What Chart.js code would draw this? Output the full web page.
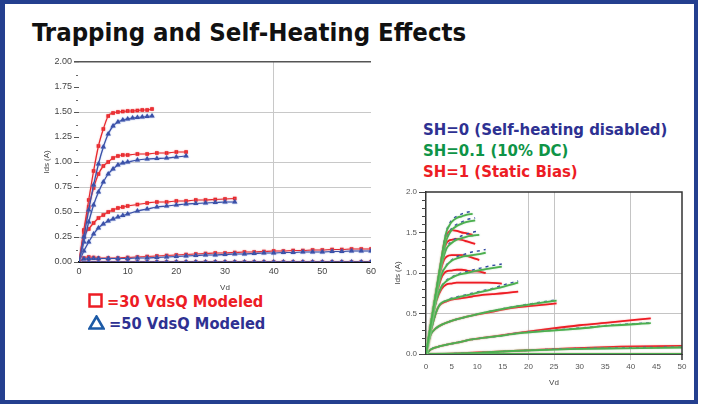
<!DOCTYPE html>
<html><head><meta charset="utf-8">
<script src="https://cdn.jsdelivr.net/npm/chart.js@4.4.1/dist/chart.umd.min.js"></script>
<style>
html,body{margin:0;padding:0;background:#fff;}
body{width:701px;height:408px;position:relative;overflow:hidden;font-family:"DejaVu Sans Condensed","DejaVu Sans",sans-serif;}
#frame{position:absolute;left:0;top:0;width:698px;height:404px;box-sizing:border-box;border:4px solid #243f8f;border-left-width:5px;}
#title{position:absolute;left:32px;top:17px;font-weight:bold;font-size:25.5px;color:#111;white-space:nowrap;}
.lg{position:absolute;font-weight:bold;white-space:nowrap;}
.lg svg{vertical-align:-1px;margin-right:4px;}
canvas{position:absolute;}
</style></head>
<body>
<div id="frame"></div>
<div id="title">Trapping and Self-Heating Effects</div>
<div class="lg" style="left:88px;top:292px;font-size:16.3px;color:#ed1c24;"><svg width="15" height="15"><rect x="1.5" y="1.5" width="12" height="12" fill="none" stroke="#ed1c24" stroke-width="2.5"/></svg>=30 VdsQ Modeled</div>
<div class="lg" style="left:88px;top:314px;font-size:16.3px;color:#2e3192;"><svg width="17" height="15"><polygon points="8.5,1.5 15.5,13.5 1.5,13.5" fill="none" stroke="#1c5aa6" stroke-width="2.5"/></svg>=50 VdsQ Modeled</div>
<div class="lg" style="left:423px;top:120px;font-size:16.6px;color:#2e3192;">SH=0 (Self-heating disabled)</div>
<div class="lg" style="left:423px;top:141px;font-size:16.6px;color:#0e9447;">SH=0.1 (10% DC)</div>
<div class="lg" style="left:423px;top:162px;font-size:16.6px;color:#ed1c24;">SH=1 (Static Bias)</div>
<canvas id="c1" width="345" height="245" style="left:35px;top:52px;"></canvas>
<canvas id="c2" width="310" height="210" style="left:385px;top:182px;"></canvas>
<script>
// ---------- Left chart: VdsQ = 30 (red squares) vs 50 (blue triangles) ----------
const L_VD_1 = [0,1,2,3,4,5,6,7,8,9,10,11,12,13,14,15];
const L_Q30_1 = [0,0.32,0.62,0.91,1.16,1.33,1.46,1.49,1.50,1.505,1.51,1.51,1.515,1.52,1.52,1.53];
const L_Q50_1 = [0,0.25,0.52,0.77,0.98,1.15,1.28,1.36,1.40,1.42,1.43,1.44,1.445,1.45,1.455,1.46];
const L_VD_2 = [0,1,2,3,4,5,6,7,8,9,10,12,14,16,18,20,22];
const L_Q30_2 = [0,0.30,0.55,0.74,0.88,0.96,1.00,1.04,1.06,1.07,1.07,1.08,1.08,1.09,1.09,1.10,1.10];
const L_Q50_2 = [0,0.20,0.40,0.57,0.70,0.80,0.88,0.93,0.97,0.99,1.00,1.02,1.03,1.035,1.04,1.05,1.06];
const L_VD_3 = [0,1,2,3,4,5,6,7,8,9,10,12,14,16,18,20,22,24,26,28,30,32];
const L_Q30_3 = [0,0.25,0.33,0.39,0.44,0.47,0.50,0.52,0.54,0.55,0.56,0.575,0.59,0.60,0.60,0.61,0.61,0.62,0.62,0.625,0.63,0.635];
const L_Q50_3 = [0,0.11,0.20,0.28,0.34,0.38,0.41,0.43,0.45,0.465,0.48,0.51,0.53,0.55,0.56,0.57,0.58,0.585,0.59,0.595,0.60,0.60];
const L_VD_4 = [0,1,2,3,4,6,8,10,12,14,16,18,20,22,24,26,28,30,32,34,36,38,40,42,44,46,48,50,52,54,56,58,60];
const L_Q30_4 = [0,0.04,0.05,0.045,0.04,0.04,0.04,0.045,0.05,0.055,0.06,0.065,0.07,0.075,0.08,0.085,0.09,0.09,0.095,0.10,0.10,0.105,0.11,0.11,0.115,0.115,0.12,0.12,0.125,0.125,0.13,0.13,0.13];
const L_Q50_4 = [0,0.03,0.035,0.035,0.035,0.035,0.035,0.035,0.04,0.04,0.045,0.05,0.055,0.06,0.065,0.07,0.07,0.075,0.08,0.08,0.085,0.09,0.09,0.095,0.095,0.10,0.10,0.10,0.105,0.105,0.11,0.11,0.11];
const L_VD_5 = [0,2,4,6,8,10,12,14,16,18,20,22,24,26,28,30,32,34,36,38,40,42,44,46,48,50,52,54,56,58,60];
const L_Q30_5 = [0,0,0,0,0,0,0,0,0,0,0,0,0,0,0,0,0,0,0,0,0,0,0,0,0,0,0,0,0,0,0];
const L_Q50_5 = [0,0,0,0,0,0,0,0,0,0,0,0,0,0,0,0,0,0,0,0,0,0,0,0,0,0,0,0,0,0,0];
const L_Y_TICKS = [0,0.25,0.5,0.75,1,1.25,1.5,1.75,2];
const L_X_TICKS = [0,10,20,30,40,50,60];

// ---------- Right chart: SH = 0 (blue), 0.1 (green), 1 (red) ----------
const R_VD_1 = [0,1,2,3,3.5,4,4.5,5,6,7,8,9.1];
const SH0_1  = [0,0.39,0.78,1.17,1.37,1.52,1.60,1.65,1.70,1.73,1.75,1.76];
const SH01_1 = [0,0.39,0.78,1.17,1.36,1.51,1.58,1.63,1.68,1.70,1.72,1.73];
const SH1_1  = [0,0.39,0.78,1.17,1.36,1.47,1.51,1.53,1.52,1.50,1.49,1.47];
const R_VD_2 = [0,1,2,3,3.5,4,4.5,5,6,7,8,9.6];
const SH0_2  = [0,0.39,0.77,1.14,1.30,1.42,1.50,1.55,1.60,1.63,1.66,1.68];
const SH01_2 = [0,0.39,0.77,1.14,1.29,1.41,1.48,1.53,1.58,1.61,1.63,1.65];
const SH1_2  = [0,0.39,0.77,1.12,1.28,1.37,1.40,1.41,1.42,1.41,1.39,1.36];
const R_VD_3 = [0,1,2,3,3.5,4,5,6,7,8,9,10.4];
const SH0_3  = [0,0.39,0.77,1.10,1.22,1.31,1.39,1.43,1.46,1.48,1.50,1.52];
const SH01_3 = [0,0.39,0.77,1.10,1.21,1.30,1.37,1.41,1.43,1.45,1.46,1.47];
const SH1_3  = [0,0.39,0.76,1.06,1.16,1.20,1.22,1.22,1.22,1.21,1.19,1.16];
const R_VD_4 = [0,1,2,3,4,5,6,7,8,9,10,11.65];
const SH0_4  = [0,0.38,0.73,0.98,1.10,1.16,1.20,1.22,1.24,1.26,1.27,1.29];
const SH01_4 = [0,0.38,0.73,0.98,1.09,1.15,1.18,1.20,1.21,1.22,1.23,1.25];
const SH1_4  = [0,0.38,0.71,0.94,1.02,1.03,1.04,1.04,1.03,1.02,1.02,1.00];
const R_VD_5 = [0,1,2,3,4,5,6,8,10,12,14.8];
const SH0_5  = [0,0.35,0.66,0.83,0.91,0.95,0.98,1.02,1.05,1.08,1.11];
const SH01_5 = [0,0.35,0.66,0.83,0.90,0.94,0.97,1.00,1.03,1.05,1.08];
const SH1_5  = [0,0.35,0.65,0.80,0.86,0.87,0.88,0.88,0.88,0.88,0.87];
const R_VD_6 = [0,1,2,2.5,3,4,5,7,9,11,13,15,18];
const SH0_6  = [0,0.30,0.52,0.59,0.63,0.66,0.69,0.72,0.75,0.78,0.81,0.85,0.90];
const SH01_6 = [0,0.30,0.52,0.59,0.63,0.66,0.68,0.71,0.74,0.77,0.80,0.83,0.88];
const SH1_6  = [0,0.30,0.52,0.59,0.62,0.65,0.67,0.69,0.71,0.73,0.74,0.75,0.77];
const R_VD_7 = [0,0.5,1,1.5,2,3,5,8,12,16,20,25.5];
const SH0_7  = [0,0.15,0.25,0.29,0.32,0.36,0.41,0.46,0.52,0.57,0.615,0.67];
const SH01_7 = [0,0.15,0.25,0.29,0.32,0.36,0.41,0.46,0.52,0.57,0.61,0.66];
const SH1_7  = [0,0.15,0.25,0.29,0.32,0.36,0.41,0.46,0.51,0.56,0.59,0.625];
const R_VD_8 = [0,1,3,6,9,14,18,24,30,36,43.9];
const SH0_8  = [0,0.06,0.10,0.14,0.18,0.22,0.26,0.29,0.32,0.355,0.385];
const SH01_8 = [0,0.06,0.10,0.14,0.18,0.22,0.255,0.285,0.315,0.35,0.38];
const SH1_8  = [0,0.06,0.10,0.14,0.18,0.225,0.26,0.31,0.355,0.39,0.44];
const R_VD_9 = [0,5,10,18,28,38,50];
const SH0_9  = [0,0.005,0.015,0.04,0.065,0.075,0.085];
const SH01_9 = [0,0.005,0.015,0.04,0.06,0.07,0.08];
const SH1_9  = [0,0.005,0.02,0.04,0.07,0.09,0.10];
const R_VD_10 = [0,50];
const SH0_10  = [0,0];
const SH01_10 = [0,0];
const SH1_10  = [0,0];

function pts(xs, ys){ return xs.map((x,i)=>({x:x, y:ys[i]})); }

const halo = {
  id:'halo',
  beforeDatasetDraw(chart, args){
    const ds = chart.data.datasets[args.index];
    chart.ctx.save();
    if (ds.halo){ chart.ctx.shadowColor = ds.halo; chart.ctx.shadowBlur = 1.5; }
  },
  afterDatasetDraw(chart){ chart.ctx.restore(); }
};

Chart.defaults.font.family = '"Liberation Sans", Arial, sans-serif';
Chart.defaults.animation = false;

// ---- left chart ----
const RED = '#e8262b', BLUE = '#3a4fa6';
const leftSets = [];
[[L_VD_1,L_Q30_1,L_Q50_1],[L_VD_2,L_Q30_2,L_Q50_2],[L_VD_3,L_Q30_3,L_Q50_3],[L_VD_4,L_Q30_4,L_Q50_4],[L_VD_5,L_Q30_5,L_Q50_5]].forEach(c=>{
  leftSets.push({data:pts(c[0],c[2]), borderColor:BLUE, backgroundColor:BLUE, borderWidth:1.2, pointStyle:'triangle', pointRadius:1.9, halo:'rgba(110,140,215,0.7)'});
  leftSets.push({data:pts(c[0],c[1]), borderColor:RED, backgroundColor:RED, borderWidth:1.2, pointStyle:'rect', pointRadius:1.7, halo:'rgba(245,130,130,0.7)'});
});

const leftMinor = {
  id:'leftMinor',
  afterDraw(chart){
    const y = chart.scales.y, ctx = chart.ctx, a = chart.chartArea;
    ctx.save(); ctx.strokeStyle = '#666'; ctx.lineWidth = 1;
    for (let i=0;i<L_Y_TICKS.length-1;i++){
      const v = (L_Y_TICKS[i]+L_Y_TICKS[i+1])/2;
      const p = Math.round(y.getPixelForValue(v))+0.5;
      ctx.beginPath(); ctx.moveTo(a.left-3,p); ctx.lineTo(a.left-1,p); ctx.stroke();
    }
    ctx.restore();
  }
};

new Chart(document.getElementById('c1'), {
  type:'line',
  data:{datasets:leftSets},
  plugins:[halo,leftMinor],
  options:{
    responsive:false,
    layout:{padding:{left:0,right:7,top:10,bottom:0}},
    plugins:{legend:{display:false},tooltip:{enabled:false}},
    elements:{line:{cubicInterpolationMode:'monotone'}},
    scales:{
      x:{type:'linear',min:0,max:60,
         afterBuildTicks(s){ s.ticks = L_X_TICKS.map(v=>({value:v})); },
         afterFit(s){ s.height = 35; },
         ticks:{color:'#444',font:{size:9},padding:4,maxRotation:0},
         grid:{drawTicks:false,color:c=>c.tick && c.tick.value===40 ? '#c8c8c8' : 'rgba(0,0,0,0)',lineWidth:1},
         border:{display:true,color:'#111',width:1.5},
         title:{display:true,text:'Vd',color:'#444',font:{size:8},padding:{top:2,bottom:4}}},
      y:{type:'linear',min:0,max:2,
         afterBuildTicks(s){ s.ticks = L_Y_TICKS.map(v=>({value:v})); },
         afterFit(s){ s.width = 44; },
         ticks:{color:'#444',font:{size:9},padding:2,callback:v=>v.toFixed(2)},
         grid:{drawTicks:true,tickLength:5,
               color:c=>{const v=c.tick?c.tick.value:null; if(v===2) return '#555'; if(v===0) return '#111'; if(v===1.25||v===1.75) return 'rgba(0,0,0,0)'; return '#c8c8c8';},
               tickColor:'#555',
               lineWidth:c=>(c.tick&&c.tick.value===2)?1.6:1},
         border:{display:false},
         title:{display:true,text:'Ids (A)',color:'#444',font:{size:8},padding:{top:7,bottom:0}}}
    }
  }
});

// ---- right chart ----
const R_BLUE = '#2f46a0', R_GREEN = '#4caf4f', R_RED = '#ee1c24';
const rightCurves = [
  [R_VD_1,SH0_1,SH01_1,SH1_1],[R_VD_2,SH0_2,SH01_2,SH1_2],[R_VD_3,SH0_3,SH01_3,SH1_3],
  [R_VD_4,SH0_4,SH01_4,SH1_4],[R_VD_5,SH0_5,SH01_5,SH1_5],[R_VD_6,SH0_6,SH01_6,SH1_6],
  [R_VD_7,SH0_7,SH01_7,SH1_7],[R_VD_8,SH0_8,SH01_8,SH1_8],[R_VD_9,SH0_9,SH01_9,SH1_9],
  [R_VD_10,SH0_10,SH01_10,SH1_10]];
const rightSets = [];
rightCurves.forEach(c=>{ rightSets.push({data:pts(c[0],c[2]),borderColor:R_GREEN,borderWidth:1.8,pointRadius:0,halo:'rgba(150,210,150,0.8)'}); });
rightCurves.forEach(c=>{ rightSets.push({data:pts(c[0],c[1]),borderColor:R_BLUE,borderWidth:1.5,borderDash:[3,4],pointRadius:0}); });
rightCurves.forEach(c=>{ rightSets.push({data:pts(c[0],c[3]),borderColor:R_RED,borderWidth:1.8,pointRadius:0,halo:'rgba(245,140,140,0.8)'}); });
const R_Y_TICKS = [0,0.5,1,1.5,2];
const R_Y_MINOR = [0.1,0.2,0.3,0.4,0.6,0.7,0.8,0.9,1.1,1.2,1.3,1.4,1.6,1.7,1.8,1.9];
const R_X_TICKS = [0,5,10,15,20,25,30,35,40,45,50];
const R_X_GRID = [20,25,40];

const rightFrame = {
  id:'rightFrame',
  afterDatasetsDraw(chart){
    const a = chart.chartArea, ctx = chart.ctx, y = chart.scales.y;
    ctx.save(); ctx.strokeStyle = '#333'; ctx.lineWidth = 1.5;
    ctx.beginPath(); ctx.moveTo(a.left, a.top); ctx.lineTo(a.right, a.top); ctx.lineTo(a.right, a.bottom+6); ctx.stroke();
    ctx.lineWidth = 1; ctx.strokeStyle = '#444';
    R_Y_MINOR.forEach(v=>{ const p = Math.round(y.getPixelForValue(v))+0.5; ctx.beginPath(); ctx.moveTo(a.left-4,p); ctx.lineTo(a.left,p); ctx.stroke(); });
    ctx.restore();
  }
};

new Chart(document.getElementById('c2'), {
  type:'line',
  data:{datasets:rightSets},
  plugins:[halo,rightFrame],
  options:{
    responsive:false,
    layout:{padding:{left:0,right:13,top:10,bottom:0}},
    plugins:{legend:{display:false},tooltip:{enabled:false}},
    elements:{line:{cubicInterpolationMode:'monotone'}},
    scales:{
      x:{type:'linear',min:0,max:50,
         afterBuildTicks(s){ s.ticks = R_X_TICKS.map(v=>({value:v})); },
         afterFit(s){ s.height = 38; },
         ticks:{color:'#555',font:{size:8},padding:2,maxRotation:0},
         grid:{drawTicks:true,tickLength:6,
               color:c=>(c.tick && R_X_GRID.includes(c.tick.value)) ? '#c4c4c4' : 'rgba(0,0,0,0)',
               tickColor:c=>(c.tick && R_X_GRID.includes(c.tick.value)) ? '#c4c4c4' : 'rgba(0,0,0,0)'},
         border:{display:true,color:'#444',width:1},
         title:{display:true,text:'Vd',color:'#444',font:{size:8},padding:{top:2,bottom:4}}},
      y:{type:'linear',min:0,max:2,
         afterBuildTicks(s){ s.ticks = R_Y_TICKS.map(v=>({value:v})); },
         afterFit(s){ s.width = 41; },
         ticks:{color:'#555',font:{size:8},padding:2,callback:v=>v.toFixed(1)},
         grid:{drawTicks:true,tickLength:7,
               color:c=>{const v=c.tick?c.tick.value:null; return (v===0.5||v===1)?'#c4c4c4':'rgba(0,0,0,0)';},
               tickColor:'#444'},
         border:{display:true,color:'#333',width:1.5},
         title:{display:true,text:'Ids (A)',color:'#444',font:{size:8},padding:{top:8,bottom:0}}}
    }
  }
});
</script>
</body></html>
